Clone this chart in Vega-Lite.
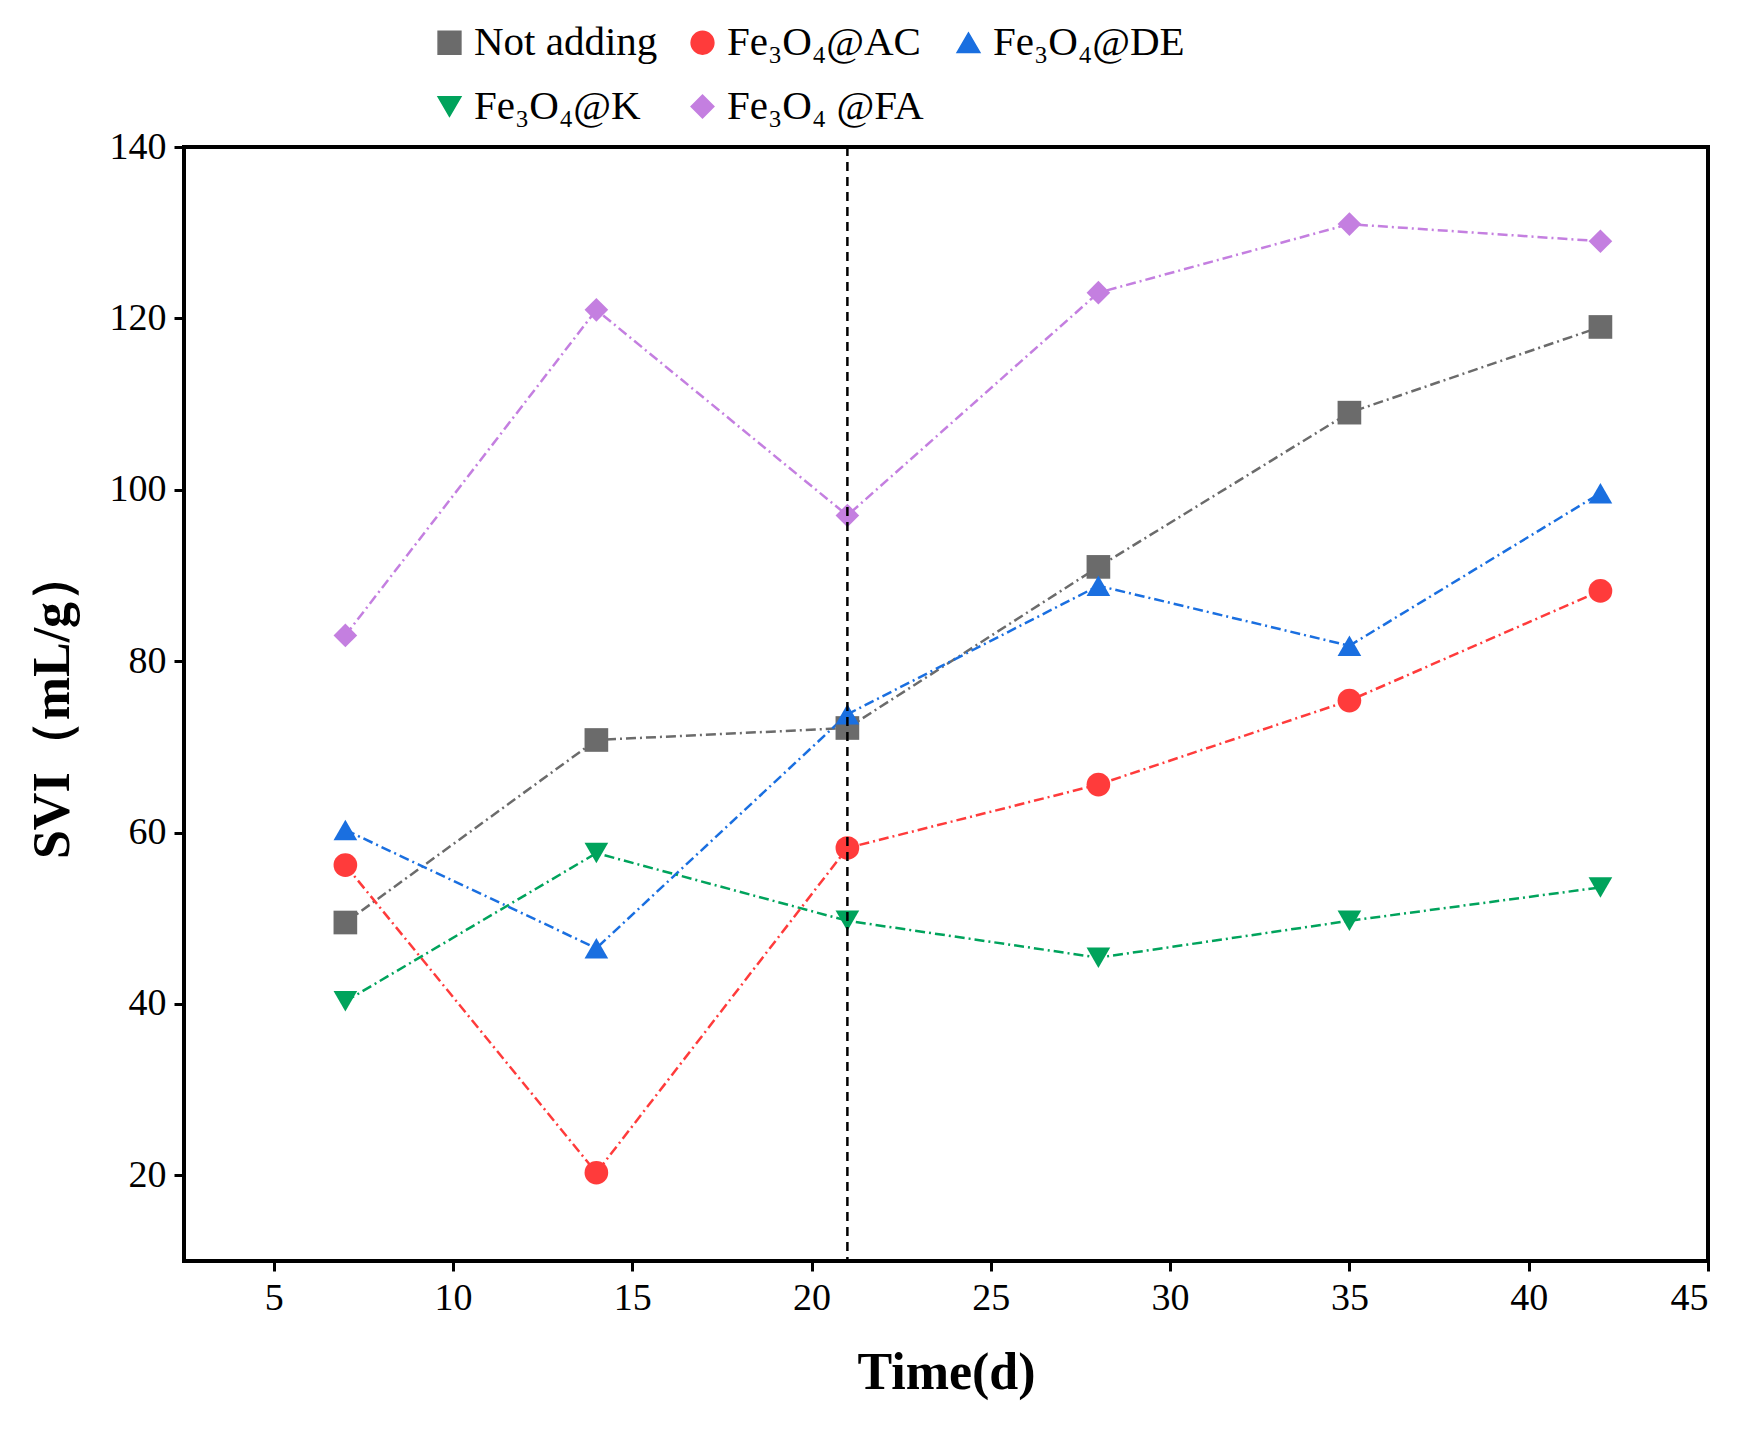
{
  "$schema": "https://vega.github.io/schema/vega-lite/v6.json",
  "width": 1524,
  "height": 1114,
  "autosize": "none",
  "padding": {"left": 184, "top": 147, "right": 34, "bottom": 175},
  "background": "white",
  "data": {"values": [
    {"s": "Not adding", "t": 7, "v": 49.5}, {"s": "Not adding", "t": 14, "v": 70.8}, {"s": "Not adding", "t": 21, "v": 72.2},
    {"s": "Not adding", "t": 28, "v": 91}, {"s": "Not adding", "t": 35, "v": 109}, {"s": "Not adding", "t": 42, "v": 119},
    {"s": "Fe₃O₄@AC", "t": 7, "v": 56.2}, {"s": "Fe₃O₄@AC", "t": 14, "v": 20.3}, {"s": "Fe₃O₄@AC", "t": 21, "v": 58.2},
    {"s": "Fe₃O₄@AC", "t": 28, "v": 65.6}, {"s": "Fe₃O₄@AC", "t": 35, "v": 75.4}, {"s": "Fe₃O₄@AC", "t": 42, "v": 88.2},
    {"s": "Fe₃O₄@DE", "t": 7, "v": 60.3}, {"s": "Fe₃O₄@DE", "t": 14, "v": 46.5}, {"s": "Fe₃O₄@DE", "t": 21, "v": 73.8},
    {"s": "Fe₃O₄@DE", "t": 28, "v": 88.8}, {"s": "Fe₃O₄@DE", "t": 35, "v": 81.8}, {"s": "Fe₃O₄@DE", "t": 42, "v": 99.6},
    {"s": "Fe₃O₄@K", "t": 7, "v": 40.3}, {"s": "Fe₃O₄@K", "t": 14, "v": 57.6}, {"s": "Fe₃O₄@K", "t": 21, "v": 49.7},
    {"s": "Fe₃O₄@K", "t": 28, "v": 45.4}, {"s": "Fe₃O₄@K", "t": 35, "v": 49.7}, {"s": "Fe₃O₄@K", "t": 42, "v": 53.6},
    {"s": "Fe₃O₄ @FA", "t": 7, "v": 83}, {"s": "Fe₃O₄ @FA", "t": 14, "v": 121}, {"s": "Fe₃O₄ @FA", "t": 21, "v": 97},
    {"s": "Fe₃O₄ @FA", "t": 28, "v": 123}, {"s": "Fe₃O₄ @FA", "t": 35, "v": 131}, {"s": "Fe₃O₄ @FA", "t": 42, "v": 129}
  ]},
  "encoding": {
    "x": {"field": "t", "type": "quantitative", "title": "Time(d)",
      "scale": {"domain": [2.5, 45], "nice": false, "zero": false},
      "axis": {"values": [5, 10, 15, 20, 25, 30, 35, 40, 45]}},
    "y": {"field": "v", "type": "quantitative", "title": "SVI（mL/g）",
      "scale": {"domain": [10, 140], "nice": false, "zero": false},
      "axis": {"values": [20, 40, 60, 80, 100, 120, 140]}},
    "color": {"field": "s", "type": "nominal", "title": null,
      "sort": ["Not adding", "Fe₃O₄@AC", "Fe₃O₄@DE", "Fe₃O₄@K", "Fe₃O₄ @FA"],
      "scale": {"domain": ["Not adding", "Fe₃O₄@AC", "Fe₃O₄@DE", "Fe₃O₄@K", "Fe₃O₄ @FA"],
        "range": ["#6b6b6b", "#ff3b3b", "#1a6fe0", "#00a35c", "#c47fe0"]}}
  },
  "layer": [
    {"mark": {"type": "line", "strokeWidth": 2.5, "strokeDash": [10, 4, 2, 4]}},
    {"mark": {"type": "point", "filled": true, "opacity": 1, "size": 560},
      "encoding": {"shape": {"field": "s", "type": "nominal", "title": null,
        "sort": ["Not adding", "Fe₃O₄@AC", "Fe₃O₄@DE", "Fe₃O₄@K", "Fe₃O₄ @FA"],
        "scale": {"domain": ["Not adding", "Fe₃O₄@AC", "Fe₃O₄@DE", "Fe₃O₄@K", "Fe₃O₄ @FA"],
          "range": ["square", "circle", "triangle-up", "triangle-down", "diamond"]}}}},
    {"data": {"values": [{"x": 21}]},
      "mark": {"type": "rule", "color": "black", "strokeWidth": 2.5, "strokeDash": [9, 6]},
      "encoding": {"x": {"field": "x", "type": "quantitative"}, "y": null, "color": null}}
  ],
  "config": {
    "font": "Liberation Serif",
    "view": {"stroke": "black", "strokeWidth": 4},
    "axis": {"grid": false, "domain": false, "tickColor": "black", "tickWidth": 3, "tickSize": 10,
      "labelFont": "Liberation Serif", "labelFontSize": 38, "labelColor": "black", "labelPadding": 8,
      "titleFont": "Liberation Serif", "titleFontSize": 52, "titleFontWeight": "bold", "titleColor": "black"},
    "axisX": {"titlePadding": 30},
    "axisY": {"titlePadding": 30},
    "legend": {"orient": "none", "legendX": 245, "legendY": -125, "direction": "horizontal", "columns": 3,
      "labelFont": "Liberation Serif", "labelFontSize": 41, "labelColor": "black", "symbolSize": 520,
      "rowPadding": 22, "columnPadding": 24, "labelLimit": 400, "symbolOpacity": 1}
  }
}
